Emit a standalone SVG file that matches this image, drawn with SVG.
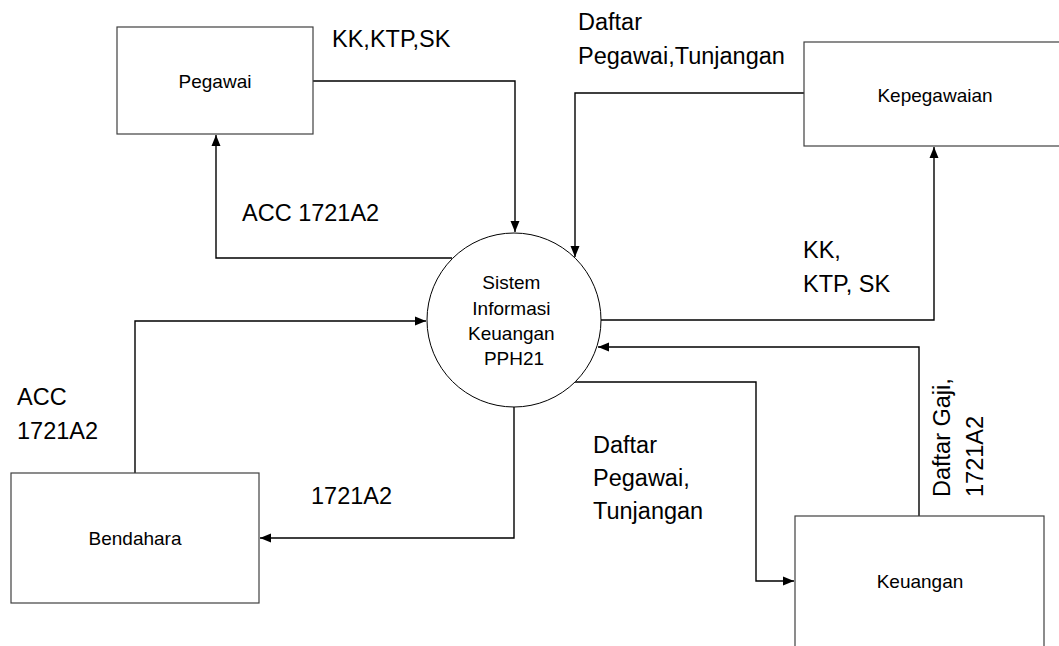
<svg xmlns="http://www.w3.org/2000/svg" width="1059" height="646" viewBox="0 0 1059 646">
<style>
.box{fill:#fff;stroke:#404040;stroke-width:1.2}
.proc{fill:#fff;stroke:#000;stroke-width:1}
.edge{fill:none;stroke:#000;stroke-width:1.4}
.sm{font-family:"Liberation Sans",Arial,sans-serif;font-size:19px;fill:#000}
.lg{font-family:"Liberation Sans",Arial,sans-serif;font-size:23.5px;fill:#000}
</style>
<defs>
<marker id="ah" markerUnits="userSpaceOnUse" markerWidth="12" markerHeight="10" refX="11" refY="5" orient="auto">
<path d="M0,0.5 L11,5 L0,9.5 Z" fill="#000"/>
</marker>
</defs>
<rect width="1059" height="646" fill="#fff"/>
<g id="connectors">
<path class="edge" d="M313,81 H515 V232" marker-end="url(#ah)"/>
<path class="edge" d="M452,258 H216 V135" marker-end="url(#ah)"/>
<path class="edge" d="M804,93 H575 V257" marker-end="url(#ah)"/>
<path class="edge" d="M601,320 H934 V147" marker-end="url(#ah)"/>
<path class="edge" d="M135,473 V321 H426" marker-end="url(#ah)"/>
<path class="edge" d="M514,407 V538 H260" marker-end="url(#ah)"/>
<path class="edge" d="M919,516 V347 H598" marker-end="url(#ah)"/>
<path class="edge" d="M575,382 H756 V581 H794" marker-end="url(#ah)"/>
</g>
<g id="pegawai">
<rect class="box" x="117" y="27" width="196" height="107"/>
<text class="sm" x="215" y="88" text-anchor="middle">Pegawai</text>
</g>
<g id="kepegawaian">
<rect class="box" x="804" y="42" width="270" height="104"/>
<text class="sm" x="935" y="102" text-anchor="middle">Kepegawaian</text>
</g>
<g id="sistem">
<circle class="proc" cx="514" cy="320" r="87"/>
<text class="sm" text-anchor="middle">
<tspan x="514" y="289">Sistem</tspan>
<tspan x="514" y="315">Informasi</tspan>
<tspan x="514" y="340">Keuangan</tspan>
<tspan x="514" y="365">PPH21</tspan>
</text>
</g>
<g id="bendahara">
<rect class="box" x="11" y="473" width="248" height="130"/>
<text class="sm" x="135" y="545" text-anchor="middle">Bendahara</text>
</g>
<g id="keuangan">
<rect class="box" x="795" y="516" width="249" height="140"/>
<text class="sm" x="920" y="588" text-anchor="middle">Keuangan</text>
</g>
<g id="labels">
<text class="lg" x="332" y="47">KK,KTP,SK</text>
<text class="lg" x="242" y="221">ACC 1721A2</text>
<text class="lg" x="578" y="30">Daftar</text>
<text class="lg" x="578" y="64">Pegawai,Tunjangan</text>
<text class="lg" x="803" y="258">KK,</text>
<text class="lg" x="803" y="292">KTP, SK</text>
<text class="lg" x="17" y="405">ACC</text>
<text class="lg" x="17" y="439">1721A2</text>
<text class="lg" x="311" y="504">1721A2</text>
<text class="lg" x="593" y="453">Daftar</text>
<text class="lg" x="593" y="486">Pegawai,</text>
<text class="lg" x="593" y="519">Tunjangan</text>
<text class="lg" transform="translate(950,497) rotate(-90)">Daftar Gaji,</text>
<text class="lg" transform="translate(983,497) rotate(-90)">1721A2</text>
</g>
</svg>
